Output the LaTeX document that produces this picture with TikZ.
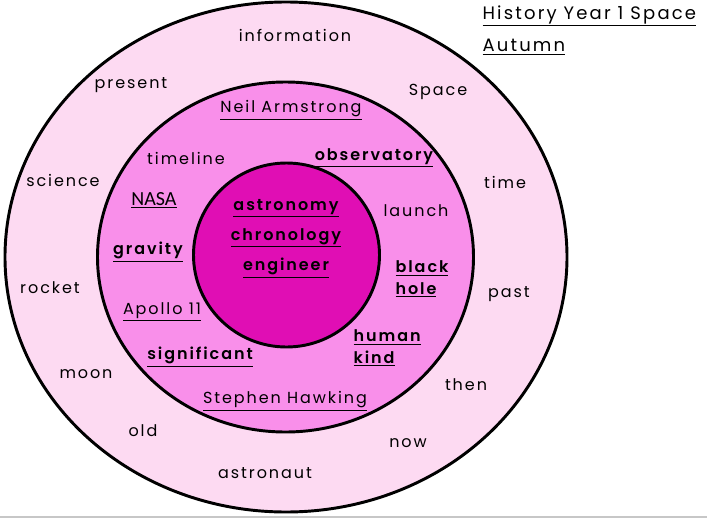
\documentclass[tikz,border=0pt]{standalone}
\usepackage{fontspec}
\setmainfont{Poppins}[LetterSpace=12, BoldFont={Poppins SemiBold}]
\newfontfamily\nasafont{Carlito}
\usetikzlibrary{positioning}

\definecolor{outerpink}{RGB}{253,218,242}
\definecolor{midpink}{RGB}{249,143,234}
\definecolor{innerpink}{RGB}{224,14,180}

\tikzset{
  ring/.style={draw=black, line width=2.2pt},
  word/.style={inner sep=1pt, font=\fontsize{12}{16}\selectfont},
  keyword/.style={word, font=\fontsize{12}{16}\selectfont\bfseries},
  heading/.style={word, anchor=west, font=\fontsize{13.5}{16}\selectfont}
}

\begin{document}
\begin{tikzpicture}[x=0.75pt, y=-0.75pt]
  \useasboundingbox (0,0) rectangle (707,518);
  % the three rings, outside in
  \draw[ring, fill=outerpink] (286,257) ellipse [x radius=281, y radius=255];
  \draw[ring, fill=midpink] (285.5,257) ellipse [x radius=188, y radius=175];
  \draw[ring, fill=innerpink] (286.5,255) ellipse [x radius=93, y radius=92];
  \draw[black!22, line width=2pt] (0,517) -- (707,517);

  % title
  \node[heading] (title) at (481,16) {\underline{History Year 1 Space}};
  \node[heading] (term) at (481,47) {\underline{Autumn}};

  % outer ring
  \node[word] (information) at (295,35) {information};
  \node[word] (present) at (131,85) {present};
  \node[word] (space) at (438,92) {Space};
  \node[word] (science) at (63,180) {science};
  \node[word] (time) at (505,182) {time};
  \node[word] (rocket) at (50,288) {rocket};
  \node[word] (past) at (509,294) {past};
  \node[word] (moon) at (86,374) {moon};
  \node[word] (then) at (466,385) {then};
  \node[word] (old) at (143,431) {old};
  \node[word] (now) at (408,443) {now};
  \node[word] (astronaut) at (265,473) {astronaut};

  % middle ring
  \node[word] (armstrong) at (291,110) {\underline{Neil Armstrong}};
  \node[word] (timeline) at (186,158) {timeline};
  \node[keyword] (observatory) at (374,158) {\underline{observatory}};
  \node[word, font=\fontsize{15}{16}\selectfont] (nasa) at (154,200) {\nasafont\underline{NASA}};
  \node[word] (launch) at (416,211) {launch};
  \node[keyword] (gravity) at (148,252) {\underline{gravity}};
  \node[keyword, align=left, anchor=west] (blackhole) at (394,279) {\underline{black}\\\underline{hole}};
  \node[word] (apollo) at (162,312) {\underline{Apollo 11}};
  \node[keyword, align=left, anchor=west] (humankind) at (352,348) {\underline{human}\\\underline{kind}};
  \node[keyword] (significant) at (200,357) {\underline{significant}};
  \node[word] (hawking) at (285,401) {\underline{Stephen Hawking}};

  % inner circle
  \node[keyword] (astronomy) at (286,208) {\underline{astronomy}};
  \node[keyword] (chronology) at (286,238) {\underline{chronology}};
  \node[keyword] (engineer) at (286,268) {\underline{engineer}};
\end{tikzpicture}
\end{document}
